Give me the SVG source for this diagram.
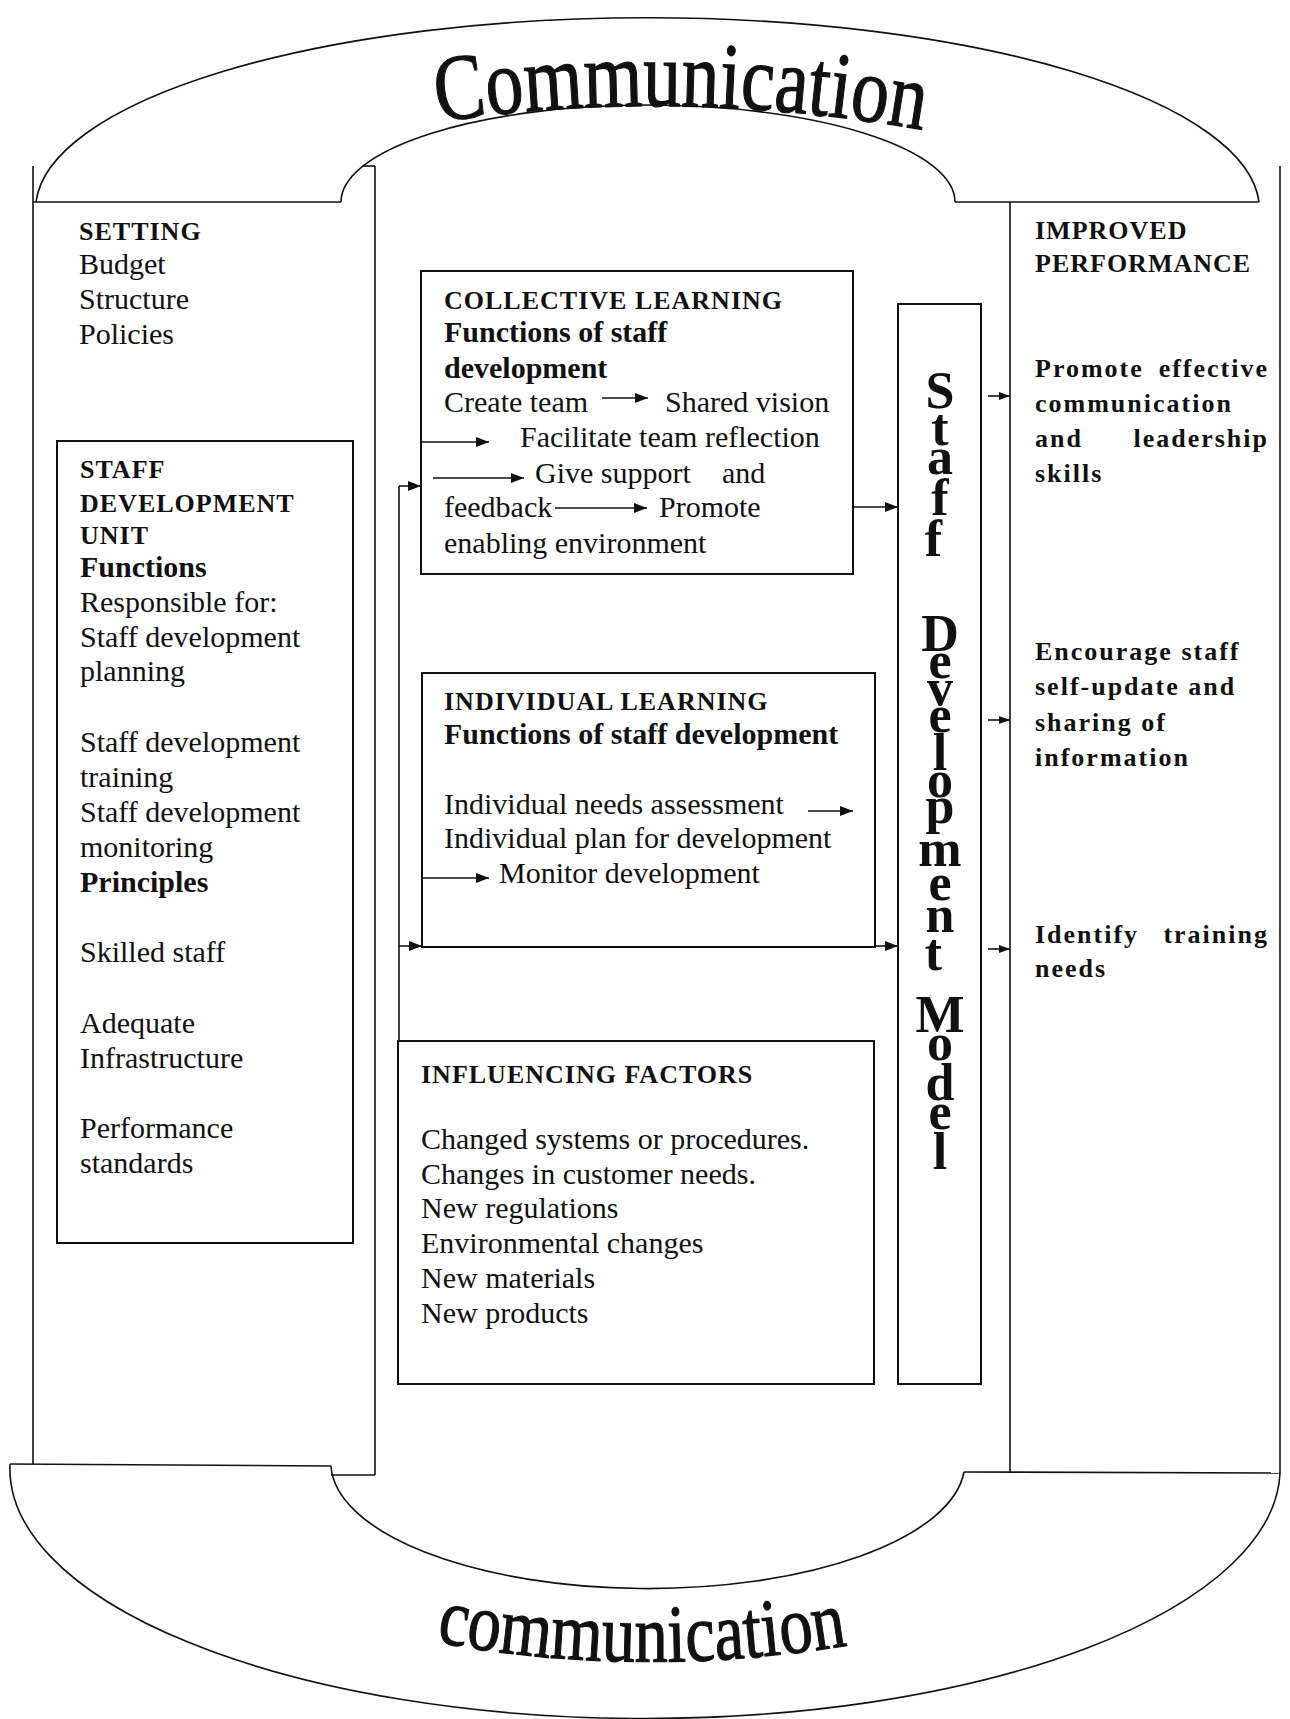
<svg xmlns="http://www.w3.org/2000/svg" width="1290" height="1719" viewBox="0 0 1290 1719">
<defs>
<style>
.ln{fill:none;stroke:#111;stroke-width:1.6}
.bx{fill:none;stroke:#111;stroke-width:2}
.cn{fill:none;stroke:#111;stroke-width:1.6}
.t{font-family:"Liberation Serif","Times New Roman",serif;font-size:30px;fill:#111}
.b{font-weight:bold}
.cap{font-family:"Liberation Serif","Times New Roman",serif;font-weight:bold;font-size:26px;letter-spacing:1px;fill:#111}
.rb{font-family:"Liberation Serif","Times New Roman",serif;font-weight:bold;font-size:26px;letter-spacing:2px;fill:#111}
.sm{font-family:"Liberation Serif","Times New Roman",serif;font-weight:bold;font-size:52px;fill:#111;text-anchor:middle}
.com{font-family:"Liberation Serif","Times New Roman",serif;fill:#111;stroke:#111;stroke-width:1.2}
</style>
<marker id="ah" markerUnits="userSpaceOnUse" markerWidth="13" markerHeight="10" refX="13" refY="5" orient="auto"><path d="M0,0 L13,5 L0,10 z" fill="#111"/></marker>
<marker id="as" markerUnits="userSpaceOnUse" markerWidth="11" markerHeight="8" refX="11" refY="4" orient="auto"><path d="M0,0 L11,4 L0,8 z" fill="#111"/></marker>
<path id="topPath" d="M 438 122 Q 680 86 935 132"/>
<path id="botPath" d="M 436 1642 Q 640 1680 850 1645"/>
</defs>
<rect width="1290" height="1719" fill="#fff"/>

<g id="frame">
<path class="ln" d="M 36 202 A 612 192 0 0 1 1259 202"/>
<path class="ln" d="M 341 202 A 307 97 0 0 1 955 202"/>
<line class="ln" x1="33" y1="166" x2="33" y2="1464"/>
<line class="ln" x1="33" y1="202" x2="341" y2="202"/>
<line class="ln" x1="362" y1="166" x2="375" y2="166"/>
<line class="ln" x1="375" y1="166" x2="375" y2="1475"/>
<line class="ln" x1="955" y1="202" x2="1259" y2="202"/>
<line class="ln" x1="1010" y1="202" x2="1010" y2="1472"/>
<line class="ln" x1="1280" y1="166" x2="1280" y2="1473"/>
<line class="ln" x1="10" y1="1464" x2="331" y2="1466"/>
<line class="ln" x1="331" y1="1475" x2="375" y2="1475"/>
<line class="ln" x1="964" y1="1472" x2="1280" y2="1473"/>
<path class="ln" d="M 10 1464 A 635 250 0 0 0 1280 1473"/>
<path class="ln" d="M 331 1466 A 317 126 0 0 0 964 1472"/>
</g>

<g id="communication-top">
<text class="com" font-size="94" textLength="487" lengthAdjust="spacingAndGlyphs"><textPath href="#topPath" textLength="487" lengthAdjust="spacingAndGlyphs">Communication</textPath></text>
</g>
<g id="communication-bottom">
<text class="com" font-size="82" textLength="414" lengthAdjust="spacingAndGlyphs"><textPath href="#botPath" textLength="414" lengthAdjust="spacingAndGlyphs">communication</textPath></text>
</g>

<g id="setting">
<text class="cap" x="79" y="240">SETTING</text>
<text class="t" x="79" y="274">Budget</text>
<text class="t" x="79" y="309">Structure</text>
<text class="t" x="79" y="344">Policies</text>
</g>

<g id="staff-development-unit">
<rect class="bx" x="57" y="441" width="296" height="802"/>
<text class="cap" x="80" y="478">STAFF</text>
<text class="cap" x="80" y="512">DEVELOPMENT</text>
<text class="cap" x="80" y="544">UNIT</text>
<text class="t b" x="80" y="577">Functions</text>
<text class="t" x="80" y="612">Responsible for:</text>
<text class="t" x="80" y="647">Staff development</text>
<text class="t" x="80" y="681">planning</text>
<text class="t" x="80" y="752">Staff development</text>
<text class="t" x="80" y="787">training</text>
<text class="t" x="80" y="822">Staff development</text>
<text class="t" x="80" y="857">monitoring</text>
<text class="t b" x="80" y="892">Principles</text>
<text class="t" x="80" y="962">Skilled staff</text>
<text class="t" x="80" y="1033">Adequate</text>
<text class="t" x="80" y="1068">Infrastructure</text>
<text class="t" x="80" y="1138">Performance</text>
<text class="t" x="80" y="1173">standards</text>
</g>

<g id="collective-learning">
<rect class="bx" x="421" y="271" width="432" height="303"/>
<text class="cap" x="444" y="309">COLLECTIVE LEARNING</text>
<text class="t b" x="444" y="342">Functions of staff</text>
<text class="t b" x="444" y="378">development</text>
<text class="t" x="444" y="412">Create team</text>
<line class="cn" x1="602" y1="398" x2="648" y2="398" marker-end="url(#ah)"/>
<text class="t" x="665" y="412">Shared vision</text>
<line class="cn" x1="422" y1="442" x2="489" y2="442" marker-end="url(#ah)"/>
<text class="t" x="520" y="447">Facilitate team reflection</text>
<line class="cn" x1="433" y1="478" x2="524" y2="478" marker-end="url(#ah)"/>
<text class="t" x="535" y="483">Give support</text>
<text class="t" x="722" y="483">and</text>
<text class="t" x="444" y="517">feedback</text>
<line class="cn" x1="555" y1="508" x2="647" y2="508" marker-end="url(#ah)"/>
<text class="t" x="659" y="517">Promote</text>
<text class="t" x="444" y="553">enabling environment</text>
</g>

<g id="individual-learning">
<rect class="bx" x="422" y="673" width="453" height="274"/>
<text class="cap" x="444" y="710">INDIVIDUAL LEARNING</text>
<text class="t b" x="444" y="744">Functions of staff development</text>
<text class="t" x="444" y="814">Individual needs assessment</text>
<line class="cn" x1="808" y1="811" x2="853" y2="811" marker-end="url(#ah)"/>
<text class="t" x="444" y="848">Individual plan for development</text>
<line class="cn" x1="422" y1="878" x2="489" y2="878" marker-end="url(#ah)"/>
<text class="t" x="499" y="883">Monitor development</text>
</g>

<g id="influencing-factors">
<rect class="bx" x="398" y="1041" width="476" height="343"/>
<text class="cap" x="421" y="1083">INFLUENCING FACTORS</text>
<text class="t" x="421" y="1149">Changed systems or procedures.</text>
<text class="t" x="421" y="1184">Changes in customer needs.</text>
<text class="t" x="421" y="1218">New regulations</text>
<text class="t" x="421" y="1253">Environmental changes</text>
<text class="t" x="421" y="1288">New materials</text>
<text class="t" x="421" y="1323">New products</text>
</g>

<g id="staff-development-model">
<rect class="bx" x="898" y="304" width="83" height="1080"/>
<text class="sm">
<tspan x="940" y="408">S</tspan><tspan x="940" y="445">t</tspan><tspan x="940" y="474">a</tspan><tspan x="940" y="515">f</tspan><tspan x="940" y="556">f</tspan>
<tspan x="940" y="651">D</tspan><tspan x="940" y="678">e</tspan><tspan x="940" y="705">v</tspan><tspan x="940" y="732">e</tspan><tspan x="940" y="770">l</tspan><tspan x="940" y="797">o</tspan><tspan x="940" y="823">p</tspan><tspan x="940" y="866">m</tspan><tspan x="940" y="900">e</tspan><tspan x="940" y="932">n</tspan><tspan x="940" y="970">t</tspan>
<tspan x="940" y="1032">M</tspan><tspan x="940" y="1060">o</tspan><tspan x="940" y="1100">d</tspan><tspan x="940" y="1129">e</tspan><tspan x="940" y="1169">l</tspan>
</text>
</g>

<g id="improved-performance">
<text class="cap" x="1035" y="239">IMPROVED</text>
<text class="cap" x="1035" y="272">PERFORMANCE</text>
<text class="rb" x="1035" y="377">Promote</text>
<text class="rb" x="1269" y="377" text-anchor="end">effective</text>
<text class="rb" x="1035" y="412">communication</text>
<text class="rb" x="1035" y="447">and</text>
<text class="rb" x="1269" y="447" text-anchor="end">leadership</text>
<text class="rb" x="1035" y="482">skills</text>
<text class="rb" x="1035" y="660">Encourage staff</text>
<text class="rb" x="1035" y="695">self-update and</text>
<text class="rb" x="1035" y="731">sharing of</text>
<text class="rb" x="1035" y="766">information</text>
<text class="rb" x="1035" y="943">Identify</text>
<text class="rb" x="1269" y="943" text-anchor="end">training</text>
<text class="rb" x="1035" y="977">needs</text>
</g>

<g id="connectors">
<line class="cn" x1="399" y1="486" x2="399" y2="1041"/>
<line class="cn" x1="399" y1="486" x2="421" y2="486" marker-end="url(#ah)"/>
<line class="cn" x1="399" y1="946" x2="422" y2="946" marker-end="url(#ah)"/>
<line class="cn" x1="853" y1="507" x2="898" y2="507" marker-end="url(#ah)"/>
<line class="cn" x1="875" y1="946" x2="898" y2="946" marker-end="url(#ah)"/>
<line class="cn" x1="988" y1="396" x2="1010" y2="396" marker-end="url(#as)"/>
<line class="cn" x1="988" y1="720" x2="1010" y2="720" marker-end="url(#as)"/>
<line class="cn" x1="988" y1="949" x2="1010" y2="949" marker-end="url(#as)"/>
</g>
</svg>
